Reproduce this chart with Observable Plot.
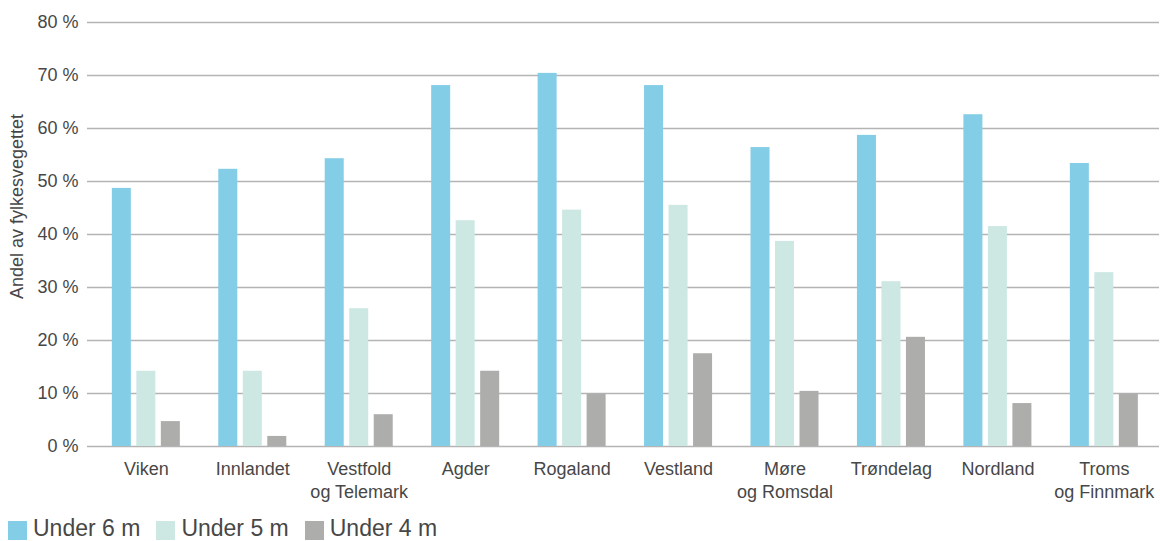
<!DOCTYPE html>
<html>
<head>
<meta charset="utf-8">
<script src="https://cdn.jsdelivr.net/npm/d3@7"></script>
<script src="https://cdn.jsdelivr.net/npm/@observablehq/plot@0.6"></script>
<style>
  html, body { margin: 0; padding: 0; background: #fff; }
  body { width: 1160px; height: 541px; overflow: hidden; font-family: "Liberation Sans", Arial, sans-serif; color: #474747; }
  #chart { position: relative; width: 1160px; height: 516px; }
  #chart svg { display: block; position: absolute; left: 0; top: 0; }
  .legend { display: flex; align-items: flex-start; padding-left: 8px; font-size: 23px; line-height: 24px; color: #474747; }
  .legend .item { display: flex; align-items: flex-start; margin-right: 16px; }
  .legend .sw { width: 19px; height: 19px; margin-top: 5px; margin-right: 6px; }
</style>
</head>
<body>
<div id="chart"></div>
<div class="legend" id="legend"></div>
<script>
// Fylker (counties)
const regions = ["Viken", "Innlandet", "Vestfold og Telemark", "Agder", "Rogaland", "Vestland", "Møre og Romsdal", "Trøndelag", "Nordland", "Troms og Finnmark"];
// Series names
const series = ["Under 6 m", "Under 5 m", "Under 4 m"];
// Share of the county road network (%)
const under6 = [48.7, 52.3, 54.3, 68.1, 70.4, 68.1, 56.4, 58.7, 62.6, 53.4];
const under5 = [14.2, 14.2, 26.0, 42.6, 44.6, 45.5, 38.7, 31.1, 41.5, 32.8];
const under4 = [4.7, 1.9, 6.0, 14.2, 9.9, 17.5, 10.4, 20.6, 8.1, 9.9];
// Y ticks
const yTicks = [0, 10, 20, 30, 40, 50, 60, 70, 80];
const yTitle = "Andel av fylkesvegettet";
const colors = ["#83cde7", "#cde8e3", "#adaeac"];

const seriesValues = [under6, under5, under4];
const rows = [];
regions.forEach((region, i) => {
  series.forEach((s, j) => rows.push({region, series: s, value: seriesValues[j][i]}));
});

// Shared frame so both layers use identical y positions
const frame = {width: 1160, height: 516, marginTop: 22, marginBottom: 70, marginLeft: 87, marginRight: 1};
const font = "'Liberation Sans', Arial, sans-serif";

// Layer 1: full-width grid lines, y tick labels and the y title
const gridLayer = Plot.plot({
  ...frame,
  style: {fontFamily: font, color: "#474747", background: "#fff"},
  y: {domain: [0, 80], axis: null},
  marks: [
    Plot.ruleY(yTicks, {stroke: "#b4b4b4", strokeWidth: 1.6}),
    Plot.axisY(yTicks, {tickSize: 0, tickPadding: 9, fontSize: 18, label: null, tickFormat: d => `${d} %`}),
    Plot.text([yTitle], {text: d => d, frameAnchor: "left", textAnchor: "middle", rotate: -90, dx: -70, dy: -28, fontSize: 18, fill: "#474747"})
  ]
});

// Layer 2: grouped bars, one facet per county
const barLayer = Plot.plot({
  ...frame,
  style: {fontFamily: font, color: "#474747", background: "transparent"},
  fx: {domain: regions, paddingInner: 0.361, paddingOuter: 0.216, align: 0.54, round: false, label: null},
  x: {domain: series, paddingInner: 0.224, paddingOuter: 0, round: false, axis: null},
  y: {domain: [0, 80], axis: null},
  color: {domain: series, range: colors},
  marks: [
    Plot.barY(rows, {fx: "region", x: "series", y: "value", fill: "series"}),
    Plot.axisFx({anchor: "bottom", tickSize: 0, tickPadding: 13, fontSize: 18, lineHeight: 1.25, label: null,
      tickFormat: d => d.replace(" og ", "\nog ")})
  ]
});

const chart = document.getElementById("chart");
chart.appendChild(gridLayer);
chart.appendChild(barLayer);

// Legend below the chart
const legend = document.getElementById("legend");
series.forEach((s, j) => {
  const item = document.createElement("div");
  item.className = "item";
  const sw = document.createElement("div");
  sw.className = "sw";
  sw.style.background = colors[j];
  const label = document.createElement("span");
  label.textContent = s;
  item.appendChild(sw);
  item.appendChild(label);
  legend.appendChild(item);
});
</script>
</body>
</html>
